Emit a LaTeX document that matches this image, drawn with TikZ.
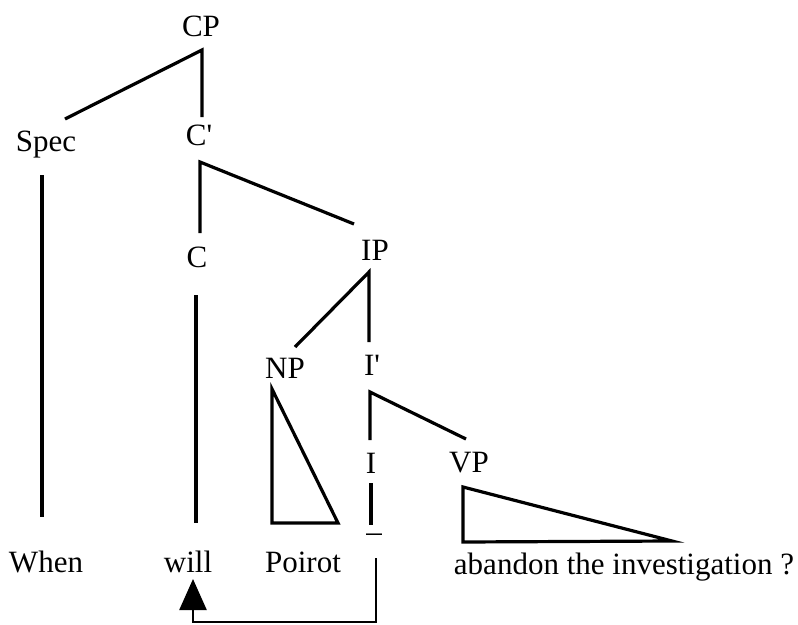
\documentclass[tikz,border=0pt]{standalone}
\usepackage{fontspec}
\setmainfont{Liberation Serif}
\usetikzlibrary{arrows.meta,positioning}
\tikzset{cat/.style={font=\fontsize{31}{37}\selectfont,inner sep=0pt,anchor=base}}
\tikzset{branch/.style={line width=3.2pt}}
\tikzset{move/.style={line width=2.5pt,-{Triangle[length=31pt,width=27pt]}}}

\begin{document}
\begin{tikzpicture}[x=1pt,y=-1pt]
    \useasboundingbox (0,0) rectangle (798,624);
        \node[cat] (CP)    at (201,36)  {CP};
        \node[cat] (Spec)  at (46,151)  {Spec};
        \node[cat] (Cbar)  at (199,145) {C\textquotesingle};
        \node[cat] (C)     at (197,267) {C};
        \node[cat] (IP)    at (375,260) {IP};
        \node[cat] (NP)    at (285,378) {NP};
        \node[cat] (Ibar)  at (372,375) {I\textquotesingle};
        \node[cat] (I)     at (371,473) {I};
        \node[cat] (VP)    at (469,472) {VP};
        \node[cat] (When)  at (46,572)  {When};
        \node[cat] (will)  at (188,572) {will};
        \node[cat] (Poirot) at (303,572) {Poirot};
        \node[cat] (trace) at (374,531) {\_};
        \node[cat] (rest)  at (624,574) {abandon the investigation ?};

        \coordinate (CP-b)   at (202,50);
        \coordinate (Spec-t) at (65,119);
        \coordinate (Cbar-t) at (202,117);
        \coordinate (Spec-b) at (42,175);
        \coordinate (When-t) at (42,517);
        \coordinate (Cbar-b) at (200,162);
        \coordinate (C-t)    at (200,233);
        \coordinate (IP-t)   at (354,224);
        \coordinate (C-b)    at (196,295);
        \coordinate (will-t) at (196,523);
        \coordinate (IP-b)   at (369,272);
        \coordinate (NP-t)   at (295,347);
        \coordinate (Ibar-t) at (369,342);
        \coordinate (NP-a)   at (272,389);
        \coordinate (NP-l)   at (272,523);
        \coordinate (NP-r)   at (338,523);
        \coordinate (Ibar-b) at (370,392);
        \coordinate (I-t)    at (370,440);
        \coordinate (VP-t)   at (466,439);
        \coordinate (I-b)    at (371,483);
        \coordinate (trace-t) at (371,525);
        \coordinate (VP-a)   at (463,487);
        \coordinate (VP-l)   at (463,542);
        \coordinate (VP-r)   at (672,541);
        \coordinate (trace-b) at (376,558);
        \coordinate (move-c) at (193,622);
        \coordinate (will-b) at (193,579);

        \draw[branch] (Spec-t) -- (CP-b) -- (Cbar-t);
        \draw[branch] (Spec-b) -- (When-t);
        \draw[branch] (C-t) -- (Cbar-b) -- (IP-t);
        \draw[branch] (C-b) -- (will-t);
        \draw[branch] (NP-t) -- (IP-b) -- (Ibar-t);
        \draw[branch] (NP-a) -- (NP-l) -- (NP-r) -- cycle;
        \draw[branch] (I-t) -- (Ibar-b) -- (VP-t);
        \draw[branch] (I-b) -- (trace-t);
        \draw[branch] (VP-a) -- (VP-l) -- (VP-r) -- cycle;
        \draw[move] (trace-b) |- (move-c) -- (will-b);
    \end{tikzpicture}
\end{document}
